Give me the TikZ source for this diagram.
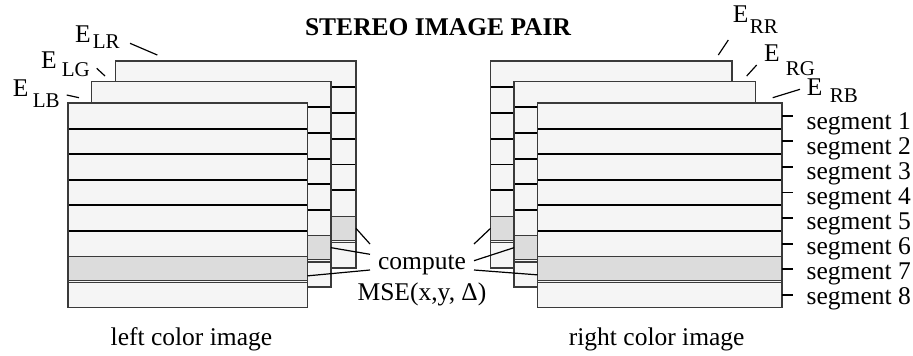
\documentclass[tikz,border=0pt]{standalone}
\usepackage{fontspec}
\setmainfont{Liberation Serif}
\usetikzlibrary{calc}
\definecolor{paper}{HTML}{F5F5F5}
\definecolor{shade}{HTML}{DCDCDC}
\definecolor{edge}{HTML}{3A3A3A}
\newcommand\mainf{\fontsize{25.5}{30}\selectfont}
\newcommand\subf{\fontsize{21}{25}\selectfont}
\tikzset{
  segline/.style={line width=1.9pt, black},
  border/.style={line width=1.3pt, edge},
  graybox/.style={draw=edge, line width=1.3pt, fill=shade, rectangle, inner sep=0pt, outer sep=0pt},
  lead/.style={line width=1.2pt, black},
  ticks/.style={line width=1.8pt, black},
  txt/.style={font=\mainf, inner sep=0pt, anchor=base},
  lbl/.style={font=\mainf, inner sep=0pt, anchor=base west},
}
% #1 name of gray node, #2 x0, #3 y0, #4 x1, #5 y1
\newcommand\imglayer[5]{%
  \fill[paper] (#2,#3) rectangle (#4,#5);
  \foreach \k in {1,...,5}{\draw[segline] (#2,{#3+\k*(#5-#3)/8}) -- (#4,{#3+\k*(#5-#3)/8});}
  \node[graybox, minimum width={(#4-#2)*1pt}, minimum height={((#5-#3)/8-1.6)*1pt}, anchor=north west] (#1) at (#2,{#3+6*(#5-#3)/8}) {};
  \draw[border] (#2,{#3+7*(#5-#3)/8+0.7}) -- (#4,{#3+7*(#5-#3)/8+0.7});
  \draw[border] (#2,#3) rectangle (#4,#5);
}
\begin{document}
\begin{tikzpicture}[x=1pt,y=-1pt]
\useasboundingbox (0,0) rectangle (913,356);
\fill[white] (0,0) rectangle (913,356);

% left image stack (back to front)
\imglayer{lrg}{115.5}{61}{356}{268}
\imglayer{lgg}{91.5}{81.5}{331}{287}
\imglayer{lbg}{68}{103}{307.5}{307.5}
% right image stack (back to front)
\imglayer{rrg}{490.5}{61}{732}{268}
\imglayer{rgg}{514}{81.5}{755.5}{287}
\imglayer{rbg}{537.5}{103}{782}{307.5}

% title
\node[txt, font=\mainf\bfseries] (title) at (438,35) {STEREO IMAGE PAIR};

% channel labels
\node[lbl] (elr) at (75,42) {E\hspace{2pt}\raisebox{-6pt}{\subf LR}};
\node[lbl] (elg) at (41,68.3) {E\hspace{5pt}\raisebox{-7.7pt}{\subf LG}};
\node[lbl] (elb) at (12.7,96.7) {E\hspace{4.4pt}\raisebox{-10.5pt}{\subf LB}};
\node[lbl] (err) at (732.7,22.7) {E\hspace{1.5pt}\raisebox{-10.6pt}{\subf RR}};
\node[lbl] (erg) at (764,61.7) {E\hspace{6.2pt}\raisebox{-13.3pt}{\subf RG}};
\node[lbl] (erb) at (806.7,95.5) {E\hspace{7.5pt}\raisebox{-6.7pt}{\subf RB}};

\coordinate (lra) at (130,43.3);  \coordinate (lrb) at (157.3,55);
\coordinate (lga) at (96.7,68.3); \coordinate (lgb) at (105,76);
\coordinate (lba) at (66.7,95);   \coordinate (lbb) at (79,97.7);
\coordinate (rra) at (728.3,40);  \coordinate (rrb) at (718.3,55);
\coordinate (rga) at (756.7,65);  \coordinate (rgb) at (746.7,76);
\coordinate (rba) at (800,89.3);  \coordinate (rbb) at (772.7,97.7);
\draw[lead] (lra) -- (lrb);
\draw[lead] (lga) -- (lgb);
\draw[lead] (lba) -- (lbb);
\draw[lead] (rra) -- (rrb);
\draw[lead] (rga) -- (rgb);
\draw[lead] (rba) -- (rbb);

% segment ticks and labels
\foreach \k in {1,...,8}{
  \coordinate (t\k) at (782,{115.8+(\k-1)*25.56});
  \coordinate (te\k) at (793,{115.8+(\k-1)*25.56});
  \draw[ticks] (t\k) -- (te\k);
  \node[lbl] (seg\k) at (806.5,{129.3+(\k-1)*24.96}) {segment \k};
}

% compute text
\node[txt] (compute) at (422,269) {compute};
\node[txt] (mse) at (422,300) {MSE(x,y, Δ)};

\coordinate (cl1) at (370,244);
\coordinate (cl2) at (370,254.3);
\coordinate (cl3) at (370,270);
\coordinate (cr1) at (474,244);
\coordinate (cr2) at (474,260.7);
\coordinate (cr3) at (474,270);
\draw[lead] (cl1) -- (lrg.east);
\draw[lead] (cl2) -- (lgg.east);
\draw[lead] (cl3) -- ($(lbg.east)+(0,7.5)$);
\draw[lead] (cr1) -- (rrg.west);
\draw[lead] (cr2) -- (rgg.west);
\draw[lead] (cr3) -- ($(rbg.west)+(0,6.5)$);

% captions
\node[txt] (lcap) at (191.4,345) {left color image};
\node[txt] (rcap) at (656.7,345) {right color image};
\end{tikzpicture}
\end{document}
